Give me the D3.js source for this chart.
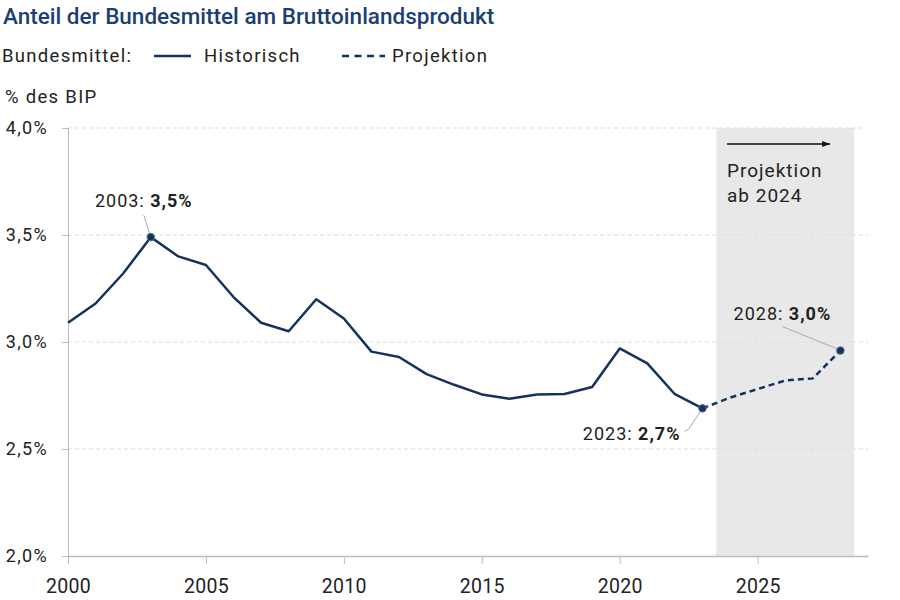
<!DOCTYPE html>
<html>
<head>
<meta charset="utf-8">
<script src="https://cdn.jsdelivr.net/npm/d3@7"></script>
<style>
  body { margin: 0; background: #fff; }
  svg text { font-family: Roboto, "Noto Sans", sans-serif; }
</style>
</head>
<body>
<svg id="chart" width="900" height="600"></svg>
<script>
// data
const histYears = [2000, 2001, 2002, 2003, 2004, 2005, 2006, 2007, 2008, 2009, 2010, 2011,
    2012, 2013, 2014, 2015, 2016, 2017, 2018, 2019, 2020, 2021, 2022, 2023];
const histValues = [3.09, 3.18, 3.32, 3.49, 3.40, 3.36, 3.21, 3.09, 3.05, 3.20, 3.11, 2.955,
    2.93, 2.85, 2.80, 2.755, 2.735, 2.755, 2.757, 2.79, 2.97, 2.90, 2.756, 2.69];
const projYears = [2023, 2024, 2025, 2026, 2027, 2028];
const projValues = [2.69, 2.74, 2.78, 2.82, 2.83, 2.96];
const yTicks = [2.0, 2.5, 3.0, 3.5, 4.0];
const xTicks = [2000, 2005, 2010, 2015, 2020, 2025];
const callouts = [
    {year: 2003, value: 3.49, label: "2003: ", bold: "3,5%"},
    {year: 2023, value: 2.69, label: "2023: ", bold: "2,7%"},
    {year: 2028, value: 2.96, label: "2028: ", bold: "3,0%"}
];

const navy = "#13325f";
const textCol = "#222";
const svg = d3.select("#chart");

let x = d3.scaleLinear().domain([2000, 2029]).range([68, 868]);
let y = d3.scaleLinear().domain([2, 4]).range([556, 128]);

// projection band
svg.append("rect")
    .attr("x", x(2023.5))
    .attr("y", y(4))
    .attr("width", x(2028.5) - x(2023.5))
    .attr("height", y(2) - y(4))
    .attr("fill", "#e8e8e8");

// gridlines
svg.append("g").selectAll("line")
    .data(yTicks.slice(1))
    .enter().append("line")
    .attr("x1", x(2000)).attr("x2", x(2029))
    .attr("y1", d => y(d)).attr("y2", d => y(d))
    .attr("stroke", "#dcdcdc")
    .attr("stroke-dasharray", "4,3");

// y axis
let yAxis = d3.axisLeft(y)
    .tickValues(yTicks)
    .tickSize(6)
    .tickFormat(d => d.toFixed(1).replace(".", ",") + "%");
let gy = svg.append("g").attr("transform", "translate(" + x(2000) + ",0)").call(yAxis);
gy.select(".domain").attr("stroke", "#bbb");
gy.selectAll(".tick line").attr("stroke", "#bbb");
gy.selectAll(".tick text")
    .attr("x", -20)
    .attr("font-size", 18)
    .attr("letter-spacing", 1.3)
    .attr("fill", textCol);

// x axis
let xAxis = d3.axisBottom(x)
    .tickValues(xTicks)
    .tickSize(8)
    .tickSizeOuter(0)
    .tickFormat(d3.format("d"));
let gx = svg.append("g").attr("transform", "translate(0," + y(2) + ")").call(xAxis);
gx.select(".domain").attr("stroke", "#bbb").attr("stroke-width", 1.5);
gx.selectAll(".tick line").attr("stroke", "#bbb");
gx.selectAll(".tick text")
    .attr("y", 23)
    .attr("font-size", 19.5)
    .attr("letter-spacing", 0.3)
    .attr("fill", textCol);

// lines
let line = d3.line()
    .x(d => x(d[0]))
    .y(d => y(d[1]));

svg.append("path")
    .attr("d", line(d3.zip(histYears, histValues)))
    .attr("fill", "none")
    .attr("stroke", navy)
    .attr("stroke-width", 2.5)
    .attr("stroke-linejoin", "round");

svg.append("path")
    .attr("d", line(d3.zip(projYears, projValues)))
    .attr("fill", "none")
    .attr("stroke", navy)
    .attr("stroke-width", 2.5)
    .attr("stroke-dasharray", "6,4");

// callout leader lines (offsets from the point)
let leaders = [
    [[-7, -22], [-1, -3]],
    [[-18, 23], [-14, 21], [-2, 3]],
    [[-58, -24], [-4, -2]]
];
callouts.forEach(function(c, i) {
    let px = x(c.year), py = y(c.value);
    svg.append("path")
        .attr("d", d3.line()(leaders[i].map(o => [px + o[0], py + o[1]])))
        .attr("fill", "none")
        .attr("stroke", "#aaa")
        .attr("stroke-width", 1);
});

svg.append("g").selectAll("circle")
    .data(callouts)
    .enter().append("circle")
    .attr("cx", d => x(d.year))
    .attr("cy", d => y(d.value))
    .attr("r", 3.8)
    .attr("fill", navy)
    .attr("stroke", "#5a7199")
    .attr("stroke-width", 1);

let labelPos = [
    {dx: -7, dy: -30, anchor: "middle"},
    {dx: -22, dy: 32, anchor: "end"},
    {dx: -58, dy: -31, anchor: "middle"}
];
callouts.forEach(function(c, i) {
    let t = svg.append("text")
        .attr("x", x(c.year) + labelPos[i].dx)
        .attr("y", y(c.value) + labelPos[i].dy)
        .attr("text-anchor", labelPos[i].anchor)
        .attr("font-size", 18)
        .attr("letter-spacing", 1)
        .attr("fill", textCol);
    t.append("tspan").text(c.label);
    t.append("tspan").attr("font-weight", "bold").text(c.bold);
});

// projection arrow
svg.append("defs").append("marker")
    .attr("id", "arrow")
    .attr("viewBox", "0 0 10 10")
    .attr("refX", 10).attr("refY", 5)
    .attr("markerWidth", 6).attr("markerHeight", 6)
    .attr("orient", "auto")
    .append("path")
    .attr("d", "M0,1 L10,5 L0,9 Z")
    .attr("fill", "#111");

svg.append("line")
    .attr("x1", 727).attr("x2", 830)
    .attr("y1", 144).attr("y2", 144)
    .attr("stroke", "#111")
    .attr("stroke-width", 1.3)
    .attr("marker-end", "url(#arrow)");

svg.append("text").attr("x", 727).attr("y", 177)
    .attr("font-size", 19).attr("letter-spacing", 1).attr("fill", textCol).text("Projektion");
svg.append("text").attr("x", 727).attr("y", 202)
    .attr("font-size", 19).attr("letter-spacing", 1).attr("fill", textCol).text("ab 2024");

// title and legend
svg.append("text")
    .attr("x", 3).attr("y", 24)
    .attr("font-size", 22.5)
    .attr("font-weight", 500)
    .attr("fill", "#1b3f73")
    .text("Anteil der Bundesmittel am Bruttoinlandsprodukt");

let legend = svg.append("g").attr("font-size", 18.5).attr("letter-spacing", 1.3).attr("fill", textCol);
legend.append("text").attr("x", 2).attr("y", 62).text("Bundesmittel:");
legend.append("line").attr("x1", 154).attr("x2", 191).attr("y1", 56).attr("y2", 56)
    .attr("stroke", navy).attr("stroke-width", 2.5);
legend.append("text").attr("x", 204).attr("y", 62).text("Historisch");
legend.append("line").attr("x1", 342).attr("x2", 385).attr("y1", 56).attr("y2", 56)
    .attr("stroke", navy).attr("stroke-width", 2.5).attr("stroke-dasharray", "7,5.5");
legend.append("text").attr("x", 392).attr("y", 62).text("Projektion");

svg.append("text").attr("x", 5).attr("y", 103)
    .attr("font-size", 18.5).attr("letter-spacing", 1.3).attr("fill", textCol).text("% des BIP");
</script>
</body>
</html>
